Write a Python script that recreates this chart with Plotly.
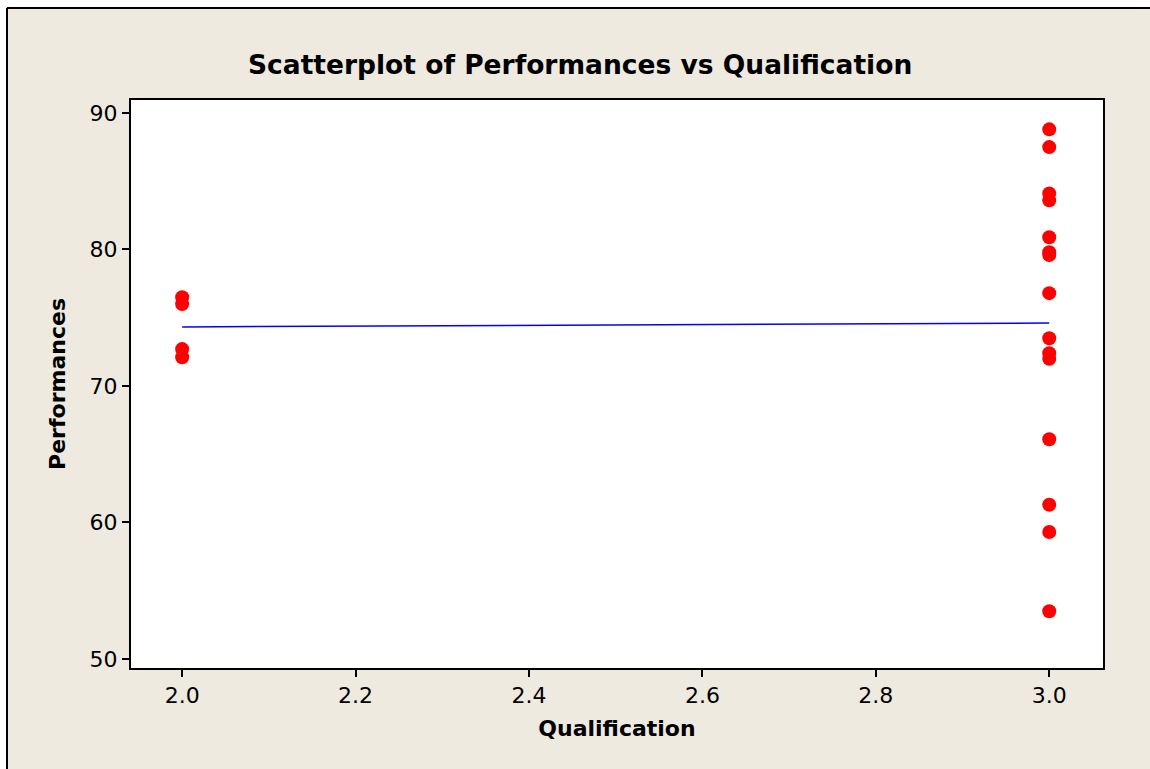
import numpy as np
import plotly.graph_objects as go

# Data
qual_2 = [2.0, 2.0, 2.0, 2.0]
perf_2 = [76.5, 76.0, 72.7, 72.1]
qual_3 = [3.0] * 15
perf_3 = [88.8, 87.5, 84.1, 83.6, 80.9, 79.8, 79.6, 76.8, 73.5, 72.4, 72.0,
          66.1, 61.3, 59.3, 53.5]

qualification = qual_2 + qual_3
performances = perf_2 + perf_3

x_ticks = [2.0, 2.2, 2.4, 2.6, 2.8, 3.0]
y_ticks = [50, 60, 70, 80, 90]

slope, intercept = np.polyfit(qualification, performances, 1)
fit_x = [min(qualification), max(qualification)]
fit_y = [intercept + slope * v for v in fit_x]

BEIGE = "#EEEAE0"
FONT = "DejaVu Sans"

W, H = 1150, 769
ML, MR, MT, MB = 131, 47, 100, 101
PW, PH = W - ML - MR, H - MT - MB


def px(xp):
    return (xp - ML) / PW


def py(yp):
    return (H - MB - yp) / PH


fig = go.Figure()
fig.add_trace(go.Scatter(
    x=fit_x, y=fit_y, mode="lines",
    line=dict(color="#0000FF", width=1.5), showlegend=False, hoverinfo="skip"))
fig.add_trace(go.Scatter(
    x=qualification, y=performances, mode="markers",
    marker=dict(color="#FF0000", size=14, line=dict(width=0)),
    showlegend=False))

fig.update_layout(
    width=W, height=H,
    margin=dict(l=ML, r=MR, t=MT, b=MB),
    paper_bgcolor=BEIGE,
    plot_bgcolor="white",
    font=dict(family=FONT, color="black", size=22),
    shapes=[
        dict(type="rect", xref="paper", yref="paper",
             x0=px(0), x1=px(W + 5), y0=py(7), y1=py(-5),
             fillcolor="white", line=dict(width=0), layer="below"),
        dict(type="rect", xref="paper", yref="paper",
             x0=px(-5), x1=px(6), y0=py(H + 5), y1=py(-5),
             fillcolor="white", line=dict(width=0), layer="below"),
        dict(type="line", xref="paper", yref="paper",
             x0=px(7), x1=px(W + 5), y0=py(8), y1=py(8),
             line=dict(color="black", width=2)),
        dict(type="line", xref="paper", yref="paper",
             x0=px(7), x1=px(7), y0=py(8), y1=py(H + 5),
             line=dict(color="black", width=2)),
    ],
    annotations=[
        dict(text="<b>Scatterplot of Performances vs Qualification</b>",
             xref="paper", yref="paper", x=px(580), y=py(64),
             xanchor="center", yanchor="middle", showarrow=False,
             font=dict(size=26.5, family=FONT)),
    ],
)
fig.update_xaxes(
    range=[1.941, 3.062], tickvals=x_ticks, ticktext=[f"{v:.1f}" for v in x_ticks],
    showgrid=False, zeroline=False, showline=True, linecolor="black", linewidth=2,
    mirror=True, ticks="outside", ticklen=7, tickwidth=2, tickcolor="black",
    tickfont=dict(size=22),
    title=dict(text="<b>Qualification</b>", font=dict(size=22), standoff=13),
)
fig.update_yaxes(
    range=[49.34, 90.95], tickvals=y_ticks,
    showgrid=False, zeroline=False, showline=True, linecolor="black", linewidth=2,
    mirror=True, ticks="outside", ticklen=7, tickwidth=2, tickcolor="black",
    tickfont=dict(size=22),
    title=dict(text="<b>Performances</b>", font=dict(size=22), standoff=18),
)

fig.write_html("out.html", config={"displayModeBar": False},
               post_script="document.body.style.margin='0';")
